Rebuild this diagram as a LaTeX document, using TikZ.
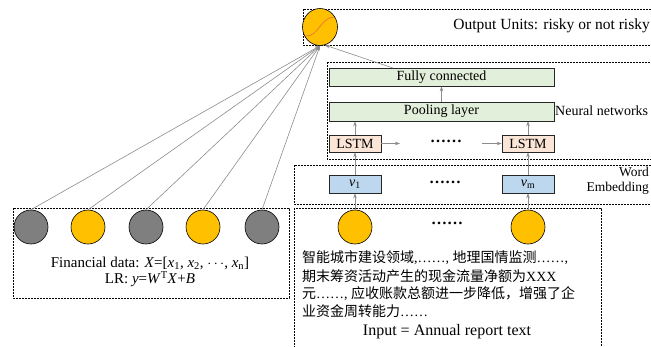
\documentclass[tikz,border=0pt]{standalone}
\usepackage{fontspec}
\setmainfont{Liberation Serif}
\newfontfamily\cjk{Noto Sans CJK SC}
\usetikzlibrary{shapes.geometric,arrows.meta}
\definecolor{gold}{HTML}{FFC000}
\definecolor{dgray}{HTML}{7F7F7F}
\definecolor{lgreen}{HTML}{E2EFDA}
\definecolor{lsalmon}{HTML}{FBE5D6}
\definecolor{lblue}{HTML}{BDD7EE}
\definecolor{sorange}{HTML}{ED7D31}
\definecolor{lgray}{HTML}{8C8C8C}
\begin{document}
\begin{tikzpicture}[x=1pt,y=-1pt,
  dbox/.style={draw=black, line width=0.6pt, dash pattern=on 2pt off 1pt},
  layer/.style={draw=black!85, line width=0.6pt, minimum width=225pt, minimum height=18pt, inner sep=0pt, fill=lgreen, font=\fontsize{14}{16}\selectfont},
  lstm/.style={draw=black!85, line width=0.6pt, fill=lsalmon, minimum width=52pt, minimum height=17pt, inner sep=0pt, font=\fontsize{14}{16}\selectfont},
  emb/.style={draw=black!85, line width=0.6pt, fill=lblue, minimum width=52pt, minimum height=18pt, inner sep=0pt, font=\fontsize{14}{16}\selectfont},
  neuron/.style={circle, draw=black, line width=0.6pt, minimum size=34pt, inner sep=0pt},
  conn/.style={draw=lgray, line width=0.6pt, -{Stealth[length=5pt,width=3.5pt]}},
  lbl/.style={inner sep=0pt, font=\fontsize{14}{16}\selectfont},
  zh/.style={inner sep=0pt, anchor=west, font=\fontsize{14}{16}\selectfont},
  dots/.style={inner sep=0pt, font=\fontsize{16}{18}\selectfont\bfseries},
]
\useasboundingbox (0,0) rectangle (651,346);
% dashed frames
\draw[dbox] (303,9) rectangle (660,45);
\draw[dbox] (327,62) rectangle (660,159);
\draw[dbox] (294,165) rectangle (660,204);
\draw[dbox] (294,208) rectangle (601,350);
\draw[dbox] (13,208) rectangle (289,298);

% output unit
\node[ellipse, draw=black, line width=0.6pt, fill=gold, minimum width=35pt, minimum height=37pt, inner sep=0pt] (out) at (320,27) {};
\draw[sorange, line width=0.8pt] (306,36) .. controls (318,37) and (321,17) .. (334,17);
\node[lbl, anchor=east, font=\fontsize{15.5}{17}\selectfont] (outlbl) at (650,26) {Output Units: risky or not risky};

% neural network layers
\node[layer] (fc) at (441.5,77) {Fully connected};
\node[layer, minimum height=19pt] (pool) at (441.5,111.5) {Pooling layer};
\node[lbl, anchor=west] (nnlbl) at (555,111) {Neural networks};
\node[lstm] (l1) at (355,143.5) {LSTM};
\node[lstm] (l2) at (528,143.5) {LSTM};
\node[dots] (d1) at (446,141) {……};
\coordinate (h1) at (400,143.5);
\coordinate (h2) at (482,143.5);

% word embedding
\node[emb] (v1) at (355,184) {\textit{v}\textsubscript{1}};
\node[emb] (vm) at (528,184) {\textit{v}\textsubscript{m}};
\node[dots] (d2) at (445,182) {……};
\node[lbl, anchor=east, font=\fontsize{13.5}{15}\selectfont] (we1) at (649,172) {Word};
\node[lbl, anchor=east, font=\fontsize{13.5}{15}\selectfont] (we2) at (649,188) {Embedding};

% input
\node[neuron, fill=gold] (c1) at (355,227) {};
\node[neuron, fill=gold] (c2) at (528,227) {};
\node[dots] (d3) at (447,223) {……};
\node[zh] (t1) at (302,258) {{\cjk 智能城市建设领域},……, {\cjk 地理国情监测}……,};
\node[zh] (t2) at (302,276) {{\cjk 期末筹资活动产生的现金流量净额为}XXX};
\node[zh] (t3) at (302,294) {{\cjk 元}……, {\cjk 应收账款总额进一步降低，增强了企}};
\node[zh] (t4) at (302,311) {{\cjk 业资金周转能力}……};
\node[lbl, font=\fontsize{16}{18}\selectfont] (inlbl) at (447,332) {Input = Annual report text};

% financial data
\node[neuron, fill=dgray] (f1) at (31,227) {};
\node[neuron, fill=gold] (f2) at (88,227) {};
\node[neuron, fill=dgray] (f3) at (146,227) {};
\node[neuron, fill=gold] (f4) at (203,227) {};
\node[neuron, fill=dgray] (f5) at (262,227) {};
\node[lbl, font=\fontsize{15}{17}\selectfont] (fin) at (150,263) {Financial data: \textit{X}=[\textit{x}\textsubscript{1}, \textit{x}\textsubscript{2}, $\cdots$, \textit{x}\textsubscript{n}]};
\node[lbl, font=\fontsize{15}{17}\selectfont] (lr) at (150,279) {LR: \textit{y}=\textit{W}\textsuperscript{T}\textit{X}+\textit{B}};

% connectors
\coordinate (fctop) at (393,68);
\foreach \f in {f1,f2,f3,f4,f5} \draw[conn] (\f.north) -- (out.south);
\draw[conn] (fctop) -- (out.-75);
\draw[conn] (c1.north) -- (v1.south);
\draw[conn] (c2.north) -- (vm.south);
\draw[conn] (v1.north) -- (l1.south);
\draw[conn] (vm.north) -- (l2.south);
\draw[conn] (l1.north) -- (l1.north |- pool.south);
\draw[conn] (l2.north) -- (l2.north |- pool.south);
\draw[conn] (pool.north) -- (fc.south);
\draw[conn] (l1.east) -- (h1);
\draw[conn] (h2) -- (l2.west);
\end{tikzpicture}
\end{document}
